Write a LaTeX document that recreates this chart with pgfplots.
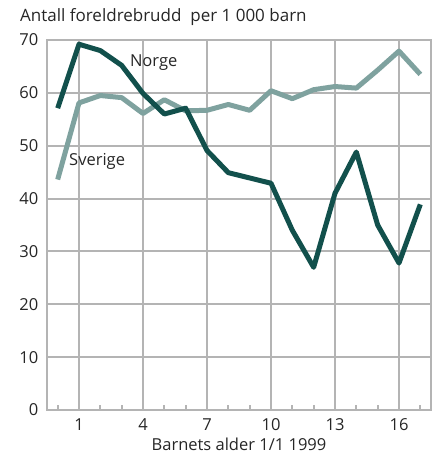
\documentclass[border=0pt]{standalone}
\usepackage{pgfplots}
\pgfplotsset{compat=1.18}
\usepackage{fontspec}
\setmainfont{Open Sans}
\definecolor{norge}{HTML}{12504C}
\definecolor{sverige}{HTML}{7FA29F}
\definecolor{ssbgrey}{RGB}{180,180,180}
\begin{document}
\fontsize{16.5}{19}\selectfont
\begin{tikzpicture}
\path[use as bounding box] (-47pt,-49pt) rectangle (393pt,410pt);
\begin{axis}[
  at={(0pt,0pt)}, anchor=south west,
  scale only axis, width=384pt, height=370pt,
  xmin=-0.5, xmax=17.5, ymin=0, ymax=70,
  xtick={1,4,7,10,13,16},
  minor xtick={0,2,3,5,6,8,9,11,12,14,15,17},
  extra x ticks={-0.5,17.5},
  extra x tick labels={},
  extra tick style={grid=major, major tick style={draw=none}},
  ytick={0,10,...,70},
  grid=major,
  grid style={draw=ssbgrey, line width=2pt},
  axis line style={draw=ssbgrey, line width=2pt},
  major tick style={draw=none},
  minor tick style={draw=ssbgrey, line width=2pt},
  minor tick length=5pt,
  tick align=inside,
  xtick pos=left, ytick pos=left,
  /pgf/number format/assume math mode=true,
  ticklabel style={font=\fontsize{16.5}{19}\selectfont, text=black!85},
  yticklabel style={xshift=-3pt},
  xticklabel style={yshift=-3pt},
  xlabel={Barnets alder 1/1 1999},
  xlabel style={font=\fontsize{16.5}{19}\selectfont, text=black!85, yshift=4pt},
  clip=false,
]
\addplot[sverige, line width=5pt, line join=round] coordinates {
(0,43.6) (1,58.1) (2,59.5) (3,59.1) (4,56.1) (5,58.7) (6,56.6) (7,56.7) (8,57.8)
(9,56.7) (10,60.4) (11,58.9) (12,60.6) (13,61.2) (14,60.9) (15,64.3) (16,67.9) (17,63.5)};
\addplot[norge, line width=5pt, line join=round] coordinates {
(0,57.1) (1,69.2) (2,68.0) (3,65.2) (4,59.9) (5,56.0) (6,57.1) (7,49.1) (8,44.9)
(9,43.9) (10,42.9) (11,34.0) (12,27.0) (13,41.0) (14,48.8) (15,35.0) (16,27.8) (17,38.9)};
\node[text=black!85] at (axis cs:4.5,65.8) {Norge};
\node[text=black!85] at (axis cs:1.85,47.0) {Sverige};
\end{axis}
\node[anchor=base west, text=black!85, inner sep=0pt] at (-27pt,388pt) {\fontsize{17}{20}\selectfont Antall foreldrebrudd\ \ per 1 000 barn};
\end{tikzpicture}
\end{document}
